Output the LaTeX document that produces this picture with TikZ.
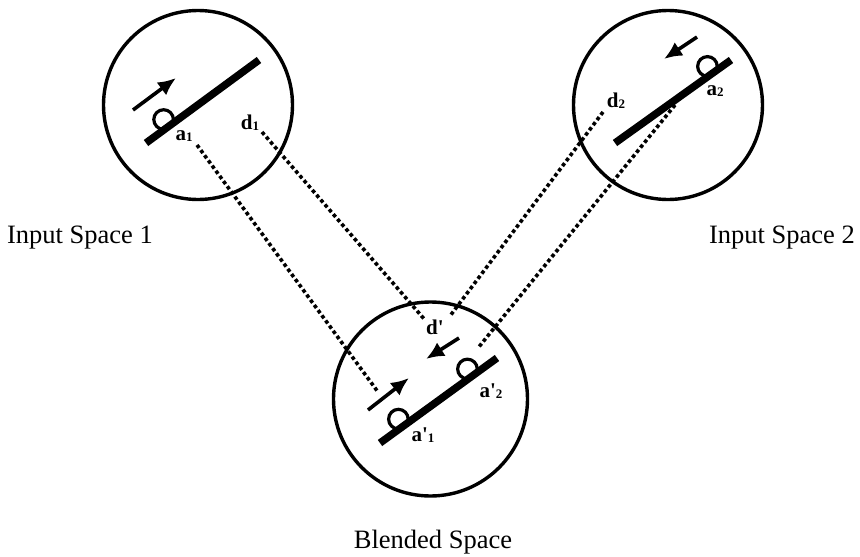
\documentclass[tikz,border=0pt]{standalone}
\usepackage{fontspec}
\setmainfont{Liberation Serif}
\usetikzlibrary{arrows.meta,calc}
\tikzstyle{space}=[draw, circle, line width=3.4pt, minimum size=189pt, inner sep=0pt]
\tikzstyle{bar}=[line width=7.5pt]
\tikzstyle{hump}=[line width=3.2pt]
\tikzstyle{move}=[-{Latex[length=18pt,width=16pt]}, line width=3.6pt]
\tikzstyle{map}=[line width=3.6pt, dash pattern=on 3.6pt off 2.8pt]
\tikzstyle{lbl}=[font=\fontsize{21}{21}\selectfont\bfseries, inner sep=0pt]
\tikzstyle{title}=[font=\fontsize{26.5}{30}\selectfont]
\newcommand{\idx}[1]{\raisebox{-1pt}{\fontsize{13}{13}\selectfont #1}}
\newcommand{\pr}{\textquotesingle}

\begin{document}
\begin{tikzpicture}[x=1pt,y=-1pt]
  \useasboundingbox (0,0) rectangle (860,557);
  % the three spaces
  \node[space] (in1) at (198,105) {};
  \node[space] (in2) at (668,105) {};
  \node[space,minimum size=194pt] (bl) at (430.5,399) {};
  \node[title,anchor=base] (t1) at (80,243) {Input Space 1};
  \node[title,anchor=base] (t2) at (782,243) {Input Space 2};
  \node[title,anchor=base] (t3) at (433,548) {Blended Space};
  % bars (seesaws)
  \coordinate (b1s) at (146,143); \coordinate (b1e) at (259,60);
  \coordinate (b2s) at (615,143); \coordinate (b2e) at (731,60);
  \coordinate (b3s) at (380,443); \coordinate (b3e) at (497,358);
  % humps sit on the bar, bar hides their lower part
  \draw[hump] ($(b1s)!0.20!(b1e)$) ++(-126:8.5) circle (9.8);
  \draw[hump] ($(b2s)!0.84!(b2e)$) ++(-126:8.5) circle (9.8);
  \draw[hump] ($(b3s)!0.20!(b3e)$) ++(-126:8.5) circle (9.8);
  \draw[hump] ($(b3s)!0.79!(b3e)$) ++(-126:8.5) circle (9.8);
  \draw[bar] (b1s) -- (b1e);
  \draw[bar] (b2s) -- (b2e);
  \draw[bar] (b3s) -- (b3e);
  % motion
  \draw[move] (133,110) -- (176,78);
  \draw[move] (697,37) -- (664,59);
  \draw[move] (368,410) -- (409,378);
  \draw[move] (459,338) -- (426,359);
  % labels
  \node[lbl] (a1) at (184,136) {a\idx{1}};
  \node[lbl] (d1) at (250,123) {d\idx{1}};
  \node[lbl] (d2) at (616,101) {d\idx{2}};
  \node[lbl] (a2) at (715,91) {a\idx{2}};
  \node[lbl] (dp) at (435,327) {d\pr};
  \node[lbl] (ap2) at (491,391) {a\pr\idx{2}};
  \node[lbl] (ap1) at (423,435) {a\pr\idx{1}};
  % mappings into the blend
  \coordinate (m1s) at (197,145); \coordinate (m1e) at (378,392);
  \coordinate (m2s) at (262,132); \coordinate (m2e) at (425,320);
  \coordinate (m3s) at (603,112); \coordinate (m3e) at (450,316);
  \coordinate (m4s) at (675,105); \coordinate (m4e) at (478,348);
  \draw[map] (m1s) -- (m1e);
  \draw[map] (m2s) -- (m2e);
  \draw[map] (m3s) -- (m3e);
  \draw[map] (m4s) -- (m4e);
\end{tikzpicture}
\end{document}
